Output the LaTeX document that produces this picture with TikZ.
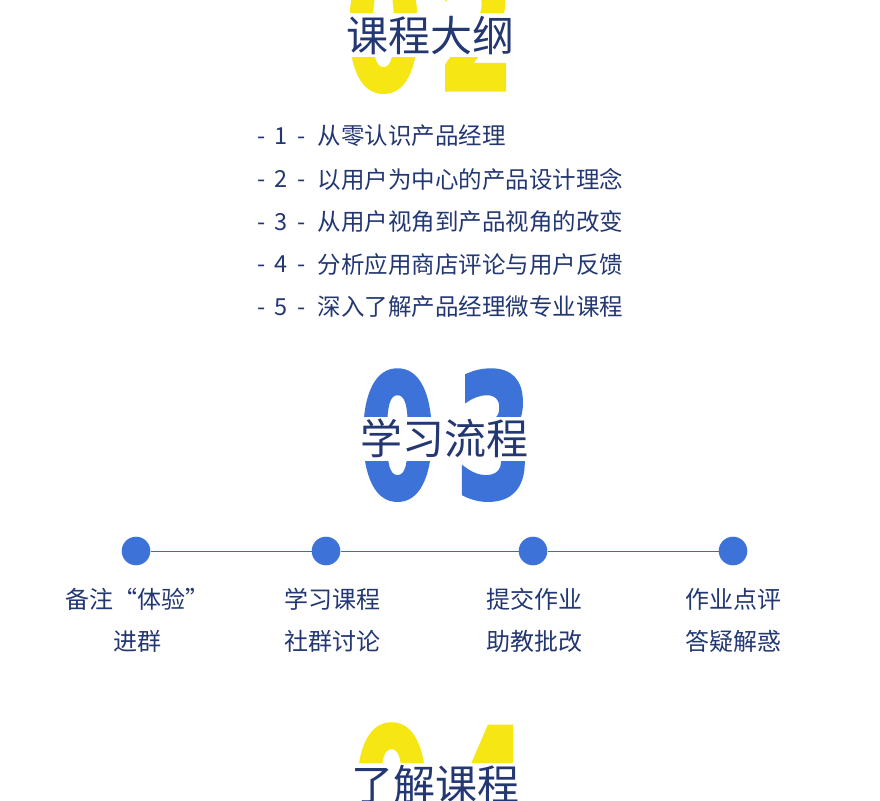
\documentclass[tikz,border=0pt]{standalone}
\usepackage{graphicx}
\usepackage{fontspec}
\setmainfont{Noto Sans CJK SC}
\newfontfamily\digitfont[FakeBold=3]{DejaVu Sans Bold}
\definecolor{navy}{RGB}{35,55,115}
\definecolor{yel}{RGB}{245,230,20}
\definecolor{blu}{RGB}{61,114,217}
\tikzset{
  digit/.style={inner sep=0pt, anchor=base, font=\digitfont\fontsize{170}{170}\selectfont},
  band/.style={fill=white, inner sep=0pt, minimum width=200pt, minimum height=44pt,
    text=navy, font=\fontsize{42}{42}\selectfont},
  itemnum/.style={inner sep=0pt, text=navy, font=\fontsize{23.5}{23.5}\selectfont},
  itemtxt/.style={inner sep=0pt, anchor=west, text=navy, font=\fontsize{23.5}{23.5}\selectfont},
  dot/.style={circle, fill=blu, minimum size=28.6pt, inner sep=0pt},
  lbl/.style={inner sep=0pt, text=navy, font=\fontsize{24}{24}\selectfont},
  link/.style={draw=blu!85!navy, line width=1pt}
}
\newcommand{\dg}[1]{\scalebox{0.64}[1]{#1}}
\begin{document}
\begin{tikzpicture}[x=1pt,y=-1pt]
\useasboundingbox (0,0) rectangle (880,800);
\clip (0,0) rectangle (880,800);
\fill[white] (0,0) rectangle (880,800);
% section 02
\node[digit, text=yel] (n02a) at (383.5,89) {\dg{0}};
\node[digit, text=yel] (n02b) at (476,89) {\dg{2}};
\node[band] (t02) at (430,35) {课程大纲};
% list
\node[itemnum] (i1) at (281.5,136) {-\hspace{9pt}1\hspace{9pt}-};
\node[itemtxt] (l1) at (317.5,136) {从零认识产品经理};
\node[itemnum] (i2) at (281.5,179) {-\hspace{9pt}2\hspace{9pt}-};
\node[itemtxt] (l2) at (317.5,179) {以用户为中心的产品设计理念};
\node[itemnum] (i3) at (281.5,222) {-\hspace{9pt}3\hspace{9pt}-};
\node[itemtxt] (l3) at (317.5,222) {从用户视角到产品视角的改变};
\node[itemnum] (i4) at (281.5,264.5) {-\hspace{9pt}4\hspace{9pt}-};
\node[itemtxt] (l4) at (317.5,264.5) {分析应用商店评论与用户反馈};
\node[itemnum] (i5) at (281.5,307) {-\hspace{9pt}5\hspace{9pt}-};
\node[itemtxt] (l5) at (317.5,307) {深入了解产品经理微专业课程};
% section 03
\node[digit, text=blu] (n03a) at (397.5,497) {\dg{0}};
\node[digit, text=blu] (n03b) at (494,497) {\dg{3}};
\node[band] (t03) at (444,438.5) {学习流程};
% timeline
\node[dot] (d1) at (136,551) {};
\node[dot] (d2) at (326,551) {};
\node[dot] (d3) at (533,551) {};
\node[dot] (d4) at (733,551) {};
\draw[link] (d1) -- (d2);
\draw[link] (d2) -- (d3);
\draw[link] (d3) -- (d4);
\node[lbl] (a1) at (137,599) {备注“体验”};
\node[lbl] (b1) at (137,641) {进群};
\node[lbl] (a2) at (332,599) {学习课程};
\node[lbl] (b2) at (332,641) {社群讨论};
\node[lbl] (a3) at (534,599) {提交作业};
\node[lbl] (b3) at (534,641) {助教批改};
\node[lbl] (a4) at (733,599) {作业点评};
\node[lbl] (b4) at (733,641) {答疑解惑};
% section 04
\node[digit, text=yel] (n04a) at (391.5,851) {\dg{0}};
\node[digit, text=yel] (n04b) at (490,851) {\dg{4}};
\node[band] (t04) at (435,785) {了解课程};
\end{tikzpicture}
\end{document}
